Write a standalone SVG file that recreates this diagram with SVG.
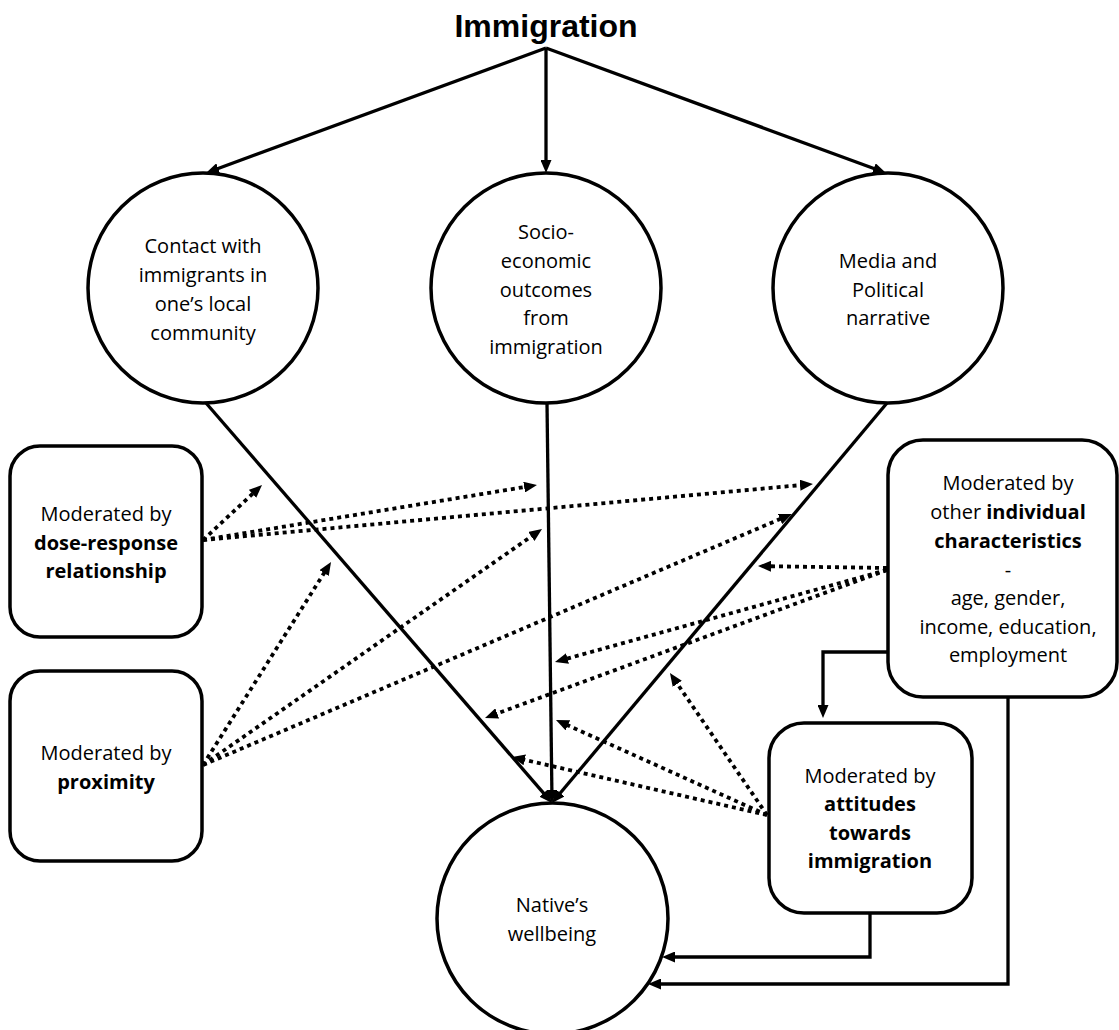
<svg xmlns="http://www.w3.org/2000/svg" width="1119" height="1030" viewBox="0 0 1119 1030">
<style>
.node{fill:#fff;stroke:#000;stroke-width:3.5}
.t{font-family:"Open Sans","Liberation Sans",sans-serif;font-size:20px;fill:#000;text-anchor:middle}
.b{font-weight:bold}
.title{font-family:"Liberation Sans",Arial,sans-serif;font-size:32px;font-weight:bold;text-anchor:middle;fill:#000}
.solid{fill:none;stroke:#000;stroke-width:3.3}
.dot{fill:none;stroke:#000;stroke-width:3.8;stroke-dasharray:4 4}
</style>
<defs>
<marker id="ah" viewBox="0 0 13 11" refX="3" refY="5.5" markerWidth="13" markerHeight="11" markerUnits="userSpaceOnUse" orient="auto">
<path d="M0,0 L13,5.5 L0,11 z" fill="#000"/>
</marker>
</defs>
<rect width="1119" height="1030" fill="#fff"/>
<g id="immigration"><text class="title" x="546" y="37">Immigration</text></g>
<g id="connectors">
<path class="solid" d="M546,48 L215.4,169.5" marker-end="url(#ah)"/>
<path class="solid" d="M546,48 L546,163" marker-end="url(#ah)"/>
<path class="solid" d="M546,48 L876.6,169.5" marker-end="url(#ah)"/>
<path class="solid" d="M206,403 L545.5,795.4" marker-end="url(#ah)"/>
<path class="solid" d="M547,403 L551.9,793" marker-end="url(#ah)"/>
<path class="solid" d="M887,403 L558.4,795.3" marker-end="url(#ah)"/>
<path class="dot" d="M203,540 L254.7,491.8" marker-end="url(#ah)"/>
<path class="dot" d="M203,540 L527.1,486.6" marker-end="url(#ah)"/>
<path class="dot" d="M203,540 L803,484.9" marker-end="url(#ah)"/>
<path class="dot" d="M203,765 L325.7,570.5" marker-end="url(#ah)"/>
<path class="dot" d="M203,765 L533.8,534.7" marker-end="url(#ah)"/>
<path class="dot" d="M203,765 L782.8,517.9" marker-end="url(#ah)"/>
<path class="dot" d="M887,568 L768,566.2" marker-end="url(#ah)"/>
<path class="dot" d="M887,570 L564.6,659.3" marker-end="url(#ah)"/>
<path class="dot" d="M887,570 L494.4,714.5" marker-end="url(#ah)"/>
<path class="dot" d="M767,815 L675.6,681.3" marker-end="url(#ah)"/>
<path class="dot" d="M767,815 L565.1,724.1" marker-end="url(#ah)"/>
<path class="dot" d="M767,815 L521.8,759.2" marker-end="url(#ah)"/>
<path class="solid" d="M888,652 H823 V708" marker-end="url(#ah)"/>
<path class="solid" d="M870,913 V957 H672" marker-end="url(#ah)"/>
<path class="solid" d="M1008,697 V984 H658" marker-end="url(#ah)"/>
</g>
<g id="contact">
<circle class="node" cx="203" cy="288" r="115"/>
<text class="t" x="203" y="253">Contact with</text>
<text class="t" x="203" y="282">immigrants in</text>
<text class="t" x="203" y="311">one’s local</text>
<text class="t" x="203" y="340">community</text>
</g>
<g id="socio">
<circle class="node" cx="546" cy="288" r="115"/>
<text class="t" x="546" y="239">Socio-</text>
<text class="t" x="546" y="268">economic</text>
<text class="t" x="546" y="297">outcomes</text>
<text class="t" x="546" y="325">from</text>
<text class="t" x="546" y="354">immigration</text>
</g>
<g id="media">
<circle class="node" cx="888" cy="288" r="115"/>
<text class="t" x="888" y="268">Media and</text>
<text class="t" x="888" y="297">Political</text>
<text class="t" x="888" y="325">narrative</text>
</g>
<g id="dose">
<rect class="node" x="10" y="446" width="192" height="191" rx="30"/>
<text class="t" x="106" y="521">Moderated by</text>
<text class="t b" x="106" y="550">dose-response</text>
<text class="t b" x="106" y="578">relationship</text>
</g>
<g id="proximity">
<rect class="node" x="10" y="671" width="192" height="190" rx="30"/>
<text class="t" x="106" y="760">Moderated by</text>
<text class="t b" x="106" y="789">proximity</text>
</g>
<g id="individual">
<rect class="node" x="888" y="440" width="229" height="257" rx="35"/>
<text class="t" x="1008" y="490">Moderated by</text>
<text class="t" x="1008" y="519">other <tspan class="b">individual</tspan></text>
<text class="t b" x="1008" y="548">characteristics</text>
<text class="t" x="1008" y="577">-</text>
<text class="t" x="1008" y="605">age, gender,</text>
<text class="t" x="1008" y="634">income, education,</text>
<text class="t" x="1008" y="662">employment</text>
</g>
<g id="attitudes">
<rect class="node" x="769" y="723" width="203" height="190" rx="35"/>
<text class="t" x="870" y="783">Moderated by</text>
<text class="t b" x="870" y="811">attitudes</text>
<text class="t b" x="870" y="840">towards</text>
<text class="t b" x="870" y="868">immigration</text>
</g>
<g id="wellbeing">
<circle class="node" cx="552.5" cy="918.5" r="115.5"/>
<text class="t" x="552" y="912">Native’s</text>
<text class="t" x="552" y="941">wellbeing</text>
</g>
</svg>
